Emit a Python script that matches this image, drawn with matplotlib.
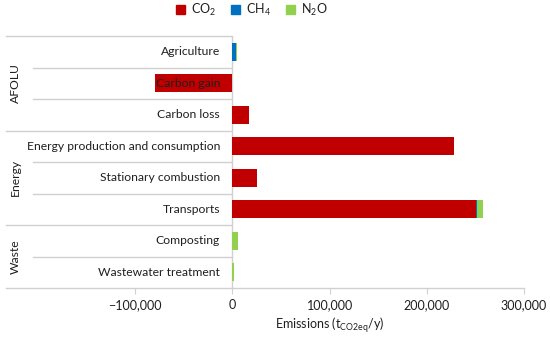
import numpy as np
import matplotlib
matplotlib.use("Agg")
import matplotlib.pyplot as plt
from matplotlib.ticker import FuncFormatter
from matplotlib.patches import Patch

plt.rcParams['font.family'] = ['Lato', 'DejaVu Sans']
plt.rcParams['mathtext.fontset'] = 'custom'
plt.rcParams['mathtext.rm'] = 'Lato'
plt.rcParams['mathtext.it'] = 'Lato:italic'
plt.rcParams['mathtext.bf'] = 'Lato:bold'

#-------------------- data --------------------
categories = ['Agriculture', 'Carbon gain', 'Carbon loss',
              'Energy production and consumption', 'Stationary combustion', 'Transports',
              'Composting', 'Wastewater treatment']
groups      = ['AFOLU', 'Energy', 'Waste']
group_sizes = [3, 3, 2]

co2 = [0, -80000, 17000, 228000, 25500, 250500, 0, 0]
ch4 = [3400, 0, 0, 0, 0, 1000, 0, 0]
n2o = [1400, 0, 0, 0, 0, 6500, 6000, 1200]

xticks = [-100000, 0, 100000, 200000, 300000]

#-------------------- styling --------------------
c_co2, c_ch4, c_n2o = '#C00000', '#0070C0', '#92D050'
grid_c = '#D0D0D0'
txt_c  = '#1f1f1f'
W, H = 550, 340

fig = plt.figure(figsize=(5.5, 3.4), dpi=100)
ax = fig.add_axes([6/W, 1 - 288/H, (524 - 6)/W, (288 - 36)/H])

y = np.arange(len(categories))
co2 = np.array(co2, float)
ch4 = np.array(ch4, float)
n2o = np.array(n2o, float)
pos_base = np.clip(co2, 0, None)

h = 0.56
ax.barh(y, co2, height=h, color=c_co2, zorder=2)
ax.barh(y, ch4, left=pos_base, height=h, color=c_ch4, zorder=2)
ax.barh(y, n2o, left=pos_base + ch4, height=h, color=c_n2o, zorder=2)

ax.set_ylim(len(categories) - 0.5, -0.5)
ax.set_xlim(-233000, 300000)

for s in ax.spines.values():
    s.set_visible(False)

# category labels next to the zero line
for yi, lab in zip(y, categories):
    ax.annotate(lab, xy=(0, yi), xytext=(-9, 0), textcoords='offset points',
                ha='right', va='center', fontsize=8.7, color=txt_c, zorder=3)

# table lines of the multi-level category axis
tr = ax.get_yaxis_transform()
x_zero = (0 - ax.get_xlim()[0]) / (ax.get_xlim()[1] - ax.get_xlim()[0])
x_inner = 27 / (524 - 6)
bounds = np.cumsum([0] + group_sizes) - 0.5
for b in bounds[:-1]:
    ax.plot([0, x_zero], [b, b], transform=tr, color=grid_c, lw=1, zorder=1, clip_on=False)
start = 0
for g, n in zip(groups, group_sizes):
    for k in range(1, n):
        yy = start + k - 0.5
        ax.plot([x_inner, x_zero], [yy, yy], transform=tr, color=grid_c, lw=1, zorder=1)
    ax.text(9/518, start + (n - 1) / 2, g, transform=tr, rotation=90,
            ha='center', va='center', fontsize=8.7, color=txt_c)
    start += n

# bottom axis line and zero line
ax.plot([0, 1], [len(categories) - 0.5] * 2, transform=tr, color=grid_c, lw=1,
        zorder=1, clip_on=False)
ax.axvline(0, color=grid_c, lw=1, zorder=1)

ax.set_yticks([])
ax.set_xticks(xticks)
ax.xaxis.set_major_formatter(FuncFormatter(lambda v, p: f'{v:,.0f}'.replace('-', '\u2212')))
ax.tick_params(axis='x', length=4, color=grid_c, labelsize=9, labelcolor=txt_c, pad=4)

fig.text(330/W, 1 - 325/H, r'Emissions (t$_{\mathrm{CO2eq}}$/y)', ha='center', va='center',
         fontsize=9, color=txt_c)

handles = [Patch(color=c_co2, label=r'CO$_2$'),
           Patch(color=c_ch4, label=r'CH$_4$'),
           Patch(color=c_n2o, label=r'N$_2$O')]
fig.legend(handles=handles, loc='center', bbox_to_anchor=(252/W, 1 - 10/H), ncol=3,
           frameon=False, fontsize=9, handlelength=0.7, handleheight=0.7,
           handletextpad=0.5, columnspacing=1.2, labelcolor=txt_c)

fig.savefig('out.png', dpi=100)
